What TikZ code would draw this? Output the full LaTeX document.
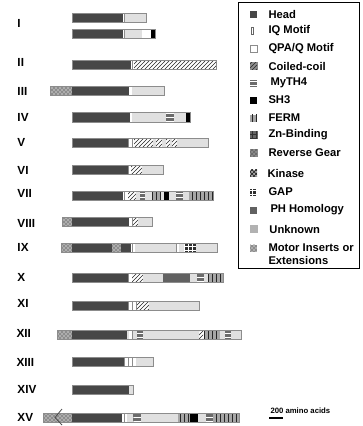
\documentclass[tikz,border=0pt]{standalone}
\usepackage{fontspec}
\setmainfont{Liberation Sans}
\usetikzlibrary{patterns}

\tikzset{every picture/.style={line width=0.75pt}}
\tikzset{
  dHead/.style={fill=black!72},
  dIQ/.style={fill=white, postaction={pattern=vertical lines, pattern color=black!45}},
  dQPA/.style={fill=white},
  dCC/.style={fill=white, postaction={pattern=north east lines, pattern color=black!85}},
  dMyTH/.style={fill=black!58, postaction={pattern=horizontal lines, pattern color=white}},
  dSH/.style={fill=black},
  dFERM/.style={fill=black!35, postaction={pattern=vertical lines, pattern color=black!85}},
  dZn/.style={fill=white, postaction={pattern=grid, pattern color=black!80}},
  dRG/.style={fill=white, postaction={pattern=crosshatch, pattern color=black!60}},
  dKin/.style={fill=black!35, postaction={pattern=crosshatch, pattern color=black!90}},
  dGAP/.style={fill=black!82, postaction={pattern=grid, pattern color=white}},
  dPH/.style={fill=black!62},
  dUnk/.style={fill=black!12},
  dMotor/.style={fill=black!32, postaction={pattern=crosshatch dots, pattern color=black!85}},
  barline/.style={draw=black!45, line width=0.4pt},
  numlabel/.style={anchor=west, inner sep=0.75pt, font=\bfseries\fontsize{8.8}{10}\selectfont},
  keytext/.style={anchor=west, inner sep=0.75pt, font=\bfseries\fontsize{8.4}{9.8}\selectfont, align=left}
}

\begin{document}
\begin{tikzpicture}[x=0.75pt,y=0.75pt,yscale=-1,xscale=1]
%set diagram left start at 0, and has height of 426
\useasboundingbox (0,0) rectangle (363,426);

%Shape: Rectangle -- class I, short form
\fill[dHead] (72,13) rectangle (123,22);
\fill[dIQ] (123,13) rectangle (125,22);
\fill[dUnk] (125,13) rectangle (146,22);
\draw[barline] (72,13) rectangle (146,22);
%Shape: Rectangle -- class I, long form
\fill[dHead] (72,29) rectangle (123,38);
\fill[dIQ] (123,29) rectangle (125,38);
\fill[dUnk] (125,29) rectangle (142,38);
\fill[dQPA] (142,29) rectangle (151,38);
\fill[dSH] (151,29) rectangle (155,38);
\draw[barline] (72,29) rectangle (155,38);
%Shape: Rectangle -- class II
\fill[dHead] (72,60) rectangle (131,69);
\fill[dIQ] (131,60) rectangle (134,69);
\fill[dCC] (134,60) rectangle (216,69);
\draw[barline] (72,60) rectangle (216,69);
%Shape: Rectangle -- class III
\fill[dMotor] (50,86) rectangle (72,95);
\fill[dHead] (72,86) rectangle (129,95);
\fill[dIQ] (129,86) rectangle (132,95);
\fill[dUnk] (132,86) rectangle (164,95);
\draw[barline] (50,86) rectangle (164,95);
%Shape: Rectangle -- class IV
\fill[dHead] (72,112) rectangle (130,122);
\fill[dIQ] (130,112) rectangle (132,122);
\fill[dUnk] (132,112) rectangle (166,122);
\fill[dMyTH] (166,112) rectangle (174,122);
\fill[dUnk] (174,112) rectangle (186,122);
\fill[dSH] (186,112) rectangle (190,122);
\draw[barline] (72,112) rectangle (190,122);
%Shape: Rectangle -- class V
\fill[dHead] (72,138) rectangle (128,147);
\fill[dIQ] (128,138) rectangle (134,147);
\fill[dCC] (134,138) rectangle (153,147);
\fill[dUnk] (153,138) rectangle (156,147);
\fill[dCC] (156,138) rectangle (162,147);
\fill[dUnk] (162,138) rectangle (166,147);
\fill[dCC] (166,138) rectangle (170,147);
\fill[dUnk] (170,138) rectangle (172,147);
\fill[dCC] (172,138) rectangle (177,147);
\fill[dUnk] (177,138) rectangle (208,147);
\draw[barline] (72,138) rectangle (208,147);
%Shape: Rectangle -- class VI
\fill[dHead] (72,165) rectangle (128,174);
\fill[dIQ] (128,165) rectangle (131,174);
\fill[dCC] (131,165) rectangle (142,174);
\fill[dUnk] (142,165) rectangle (163,174);
\draw[barline] (72,165) rectangle (163,174);
%Shape: Rectangle -- class VII
\fill[dHead] (72,191) rectangle (123,200);
\fill[dIQ] (123,191) rectangle (128,200);
\fill[dCC] (128,191) rectangle (136,200);
\fill[dUnk] (136,191) rectangle (140,200);
\fill[dMyTH] (140,191) rectangle (145,200);
\fill[dUnk] (145,191) rectangle (152,200);
\fill[dFERM] (152,191) rectangle (161,200);
\fill[dUnk] (161,191) rectangle (164,200);
\fill[dSH] (164,191) rectangle (169,200);
\fill[dUnk] (169,191) rectangle (176,200);
\fill[dMyTH] (176,191) rectangle (183,200);
\fill[dUnk] (183,191) rectangle (189,200);
\fill[dFERM] (189,191) rectangle (213,200);
\draw[barline] (72,191) rectangle (213,200);
%Shape: Rectangle -- class VIII
\fill[dMotor] (62,217) rectangle (72,226);
\fill[dHead] (72,217) rectangle (129,226);
\fill[dIQ] (129,217) rectangle (133,226);
\fill[dCC] (133,217) rectangle (138,226);
\fill[dUnk] (138,217) rectangle (152,226);
\draw[barline] (62,217) rectangle (152,226);
%Shape: Rectangle -- class IX
\fill[dMotor] (61,243) rectangle (72,252);
\fill[dHead] (72,243) rectangle (112,252);
\fill[dMotor] (112,243) rectangle (121,252);
\fill[dHead] (121,243) rectangle (131,252);
\fill[dIQ] (131,243) rectangle (135,252);
\fill[dUnk] (135,243) rectangle (176,252);
\fill[dIQ] (176,243) rectangle (179,252);
\fill[dUnk] (179,243) rectangle (184,252);
\fill[dGAP] (184,243) rectangle (196,252);
\fill[dUnk] (196,243) rectangle (217,252);
\draw[barline] (61,243) rectangle (217,252);
%Shape: Rectangle -- class X
\fill[dHead] (72,273) rectangle (128,282);
\fill[dIQ] (128,273) rectangle (132,282);
\fill[dCC] (132,273) rectangle (143,282);
\fill[dUnk] (143,273) rectangle (163,282);
\fill[dPH] (163,273) rectangle (190,282);
\fill[dUnk] (190,273) rectangle (197,282);
\fill[dMyTH] (197,273) rectangle (204,282);
\fill[dUnk] (204,273) rectangle (208,282);
\fill[dFERM] (208,273) rectangle (223,282);
\draw[barline] (72,273) rectangle (223,282);
%Shape: Rectangle -- class XI
\fill[dHead] (72,301) rectangle (128,310);
\fill[dIQ] (128,301) rectangle (137,310);
\fill[dCC] (137,301) rectangle (149,310);
\fill[dUnk] (149,301) rectangle (199,310);
\draw[barline] (72,301) rectangle (199,310);
%Shape: Rectangle -- class XII
\fill[dMotor] (57,330) rectangle (72,339);
\fill[dHead] (72,330) rectangle (127,339);
\fill[dUnk] (127,330) rectangle (129,339);
\fill[dIQ] (129,330) rectangle (133,339);
\fill[dUnk] (133,330) rectangle (137,339);
\fill[dMyTH] (137,330) rectangle (143,339);
\fill[dUnk] (143,330) rectangle (199,339);
\fill[dCC] (199,330) rectangle (203,339);
\fill[dFERM] (204,330) rectangle (220,339);
\fill[dUnk] (220,330) rectangle (225,339);
\fill[dMyTH] (225,330) rectangle (231,339);
\fill[dUnk] (231,330) rectangle (241,339);
\draw[barline] (57,330) rectangle (241,339);
%Shape: Rectangle -- class XIII
\fill[dHead] (72,357) rectangle (124,366);
\fill[dIQ] (124,357) rectangle (136,366);
\fill[dUnk] (136,357) rectangle (153,366);
\draw[barline] (72,357) rectangle (153,366);
%Shape: Rectangle -- class XIV
\fill[dHead] (72,385) rectangle (129,394);
\fill[dUnk] (129,385) rectangle (133,394);
\draw[barline] (72,385) rectangle (133,394);
%Shape: Rectangle -- class XV
\fill[dMotor] (43,413) rectangle (72,422);
\fill[dHead] (72,413) rectangle (122,422);
\fill[dIQ] (122,413) rectangle (127,422);
\fill[dUnk] (127,413) rectangle (133,422);
\fill[dMyTH] (133,413) rectangle (141,422);
\fill[dUnk] (141,413) rectangle (178,422);
\fill[dFERM] (178,413) rectangle (190,422);
\fill[dSH] (190,413) rectangle (198,422);
\fill[dUnk] (198,413) rectangle (206,422);
\fill[dMyTH] (206,413) rectangle (213,422);
\fill[dFERM] (213,413) rectangle (239,422);
\draw[barline] (43,413) rectangle (239,422);
%Straight Lines -- arrow mark on class XV
\draw[black!70, line width=0.6] (62,409) -- (55,417.5) -- (62,425) ;

% Text Node -- class labels
\draw (16,23.5) node [numlabel] (lI) {I};
\draw (16,62) node [numlabel] (lII) {II};
\draw (16,91) node [numlabel] (lIII) {III};
\draw (16,117) node [numlabel] (lIV) {IV};
\draw (16,142.5) node [numlabel] (lV) {V};
\draw (16,170) node [numlabel] (lVI) {VI};
\draw (16,193) node [numlabel] (lVII) {VII};
\draw (16,223) node [numlabel] (lVIII) {VIII};
\draw (16,247) node [numlabel] (lIX) {IX};
\draw (16,277) node [numlabel] (lX) {X};
\draw (16,303.5) node [numlabel] (lXI) {XI};
\draw (15,333.5) node [numlabel] (lXII) {XII};
\draw (15,362) node [numlabel] (lXIII) {XIII};
\draw (16,389.5) node [numlabel] (lXIV) {XIV};
\draw (16,417) node [numlabel] (lXV) {XV};

%Shape: Rectangle -- legend frame
\draw[line width=0.6] (238,2) rectangle (359,268);
%Shape: Rectangle -- legend swatches
\fill[dHead] (250,10.5) rectangle (257,17.5);
\draw[black!60, line width=0.4, fill=white] (251.5,27.5) rectangle (253.5,34.5);
\draw[black!45, line width=0.4, fill=white] (250,45.5) rectangle (257,52.5);
\draw[dCC, black!45, line width=0.4] (250,62.5) rectangle (257,69.5);
\fill[dMyTH] (250,79.5) rectangle (257,86.5);
\fill[dSH] (250,96.5) rectangle (257,103.5);
\fill[dFERM] (250,114.5) rectangle (257,121.5);
\draw[dZn, black!60, line width=0.4] (250,131.5) rectangle (257,138.5);
\draw[dRG, black!45, line width=0.4] (250,149.5) rectangle (257,156.5);
\fill[dKin] (250,169.5) rectangle (257,176.5);
\fill[dGAP] (250,188.5) rectangle (257,195.5);
\fill[dPH] (250,206.5) rectangle (257,213.5);
\draw[dUnk, black!30, line width=0.4] (250,225.5) rectangle (257,232.5);
\fill[dMotor] (250,244.5) rectangle (257,251.5);

% Text Node -- legend entries
\draw (267,14) node [keytext] (kHead) {Head};
\draw (267,31) node [keytext] (kIQ) {IQ Motif};
\draw (267,49) node [keytext] (kQPA) {QPA/Q Motif};
\draw (267,66) node [keytext] (kCC) {Coiled-coil};
\draw (269,83) node [keytext] (kMyTH) {MyTH4};
\draw (267,100) node [keytext] (kSH) {SH3};
\draw (267,118) node [keytext] (kFERM) {FERM};
\draw (267,135) node [keytext] (kZn) {Zn-Binding};
\draw (267,153) node [keytext] (kRG) {Reverse Gear};
\draw (266,173) node [keytext] (kKin) {Kinase};
\draw (267,192) node [keytext] (kGAP) {GAP};
\draw (269,210) node [keytext] (kPH) {PH Homology};
\draw (268,229) node [keytext] (kUnk) {Unknown};
\draw (267,254.5) node [keytext] (kMotor) {Motor Inserts or\\Extensions};

%Straight Lines -- scale bar
\coordinate (sA) at (269,418);
\coordinate (sB) at (283,418);
\draw[line width=1.2] (sA) -- (sB) ;
% Text Node
\draw (269,411) node [anchor=west][inner sep=0.75pt] [font=\bfseries\fontsize{5.8}{7}\selectfont] (kScale) {200 amino acids};

\end{tikzpicture}
\end{document}
